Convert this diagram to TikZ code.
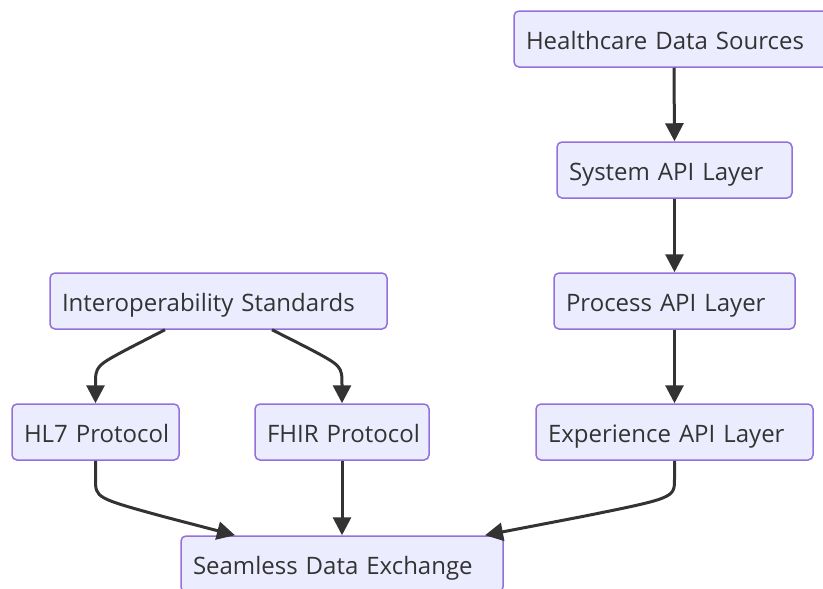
\documentclass[tikz,border=0pt]{standalone}
\usepackage{fontspec}
\setmainfont{Open Sans}
\usetikzlibrary{arrows.meta,calc}
\definecolor{boxfill}{HTML}{ECECFF}
\definecolor{boxline}{HTML}{9370DB}
\definecolor{edgecol}{HTML}{333333}
\definecolor{textcol}{HTML}{333333}
\tikzset{
  flowbox/.style={draw=boxline, fill=boxfill, line width=1.5pt, rounded corners=5pt,
    minimum height=56pt, inner xsep=12pt, inner ysep=0pt, align=left,
    text height=22pt, text depth=2pt,
    text=textcol, font=\fontsize{24}{28}\selectfont},
  link/.style={draw=edgecol, line width=3pt,
    -{Triangle[length=18pt,width=18pt]}}
}
\begin{document}
\begin{tikzpicture}[x=1pt,y=-1pt]
  \useasboundingbox (0,0) rectangle (823,589);
  \clip (0,0) rectangle (823,589);

  % API layer chain
  \node[flowbox, text width=296pt] (hds)  at (674,39)    {\mbox{Healthcare Data Sources}};
  \node[flowbox, text width=211pt] (sys)  at (674.5,170) {\mbox{System API Layer}};
  \node[flowbox, text width=217pt] (proc) at (674.5,301) {\mbox{Process API Layer}};
  \node[flowbox, text width=253pt] (exp)  at (674.5,432) {\mbox{Experience API Layer}};

  % standards branch
  \node[flowbox, text width=313pt] (interop) at (218.5,301) {\mbox{Interoperability Standards}};
  \node[flowbox, text width=143pt] (hl7)     at (95.5,432)  {\mbox{HL7 Protocol}};
  \node[flowbox, text width=150pt] (fhir)    at (342,432)   {\mbox{FHIR Protocol}};

  % common target
  \node[flowbox, text width=298pt] (seam) at (342,564) {\mbox{Seamless Data Exchange}};

  % straight links
  \draw[link] (hds.south)  -- (sys.north);
  \draw[link] (sys.south)  -- (proc.north);
  \draw[link] (proc.south) -- (exp.north);
  \draw[link] (fhir.south) -- (seam.north);

  % curved links
  \draw[link] ([xshift=-53.5pt]interop.south) -- (130.5,347.5)
    .. controls (95.5,366) .. (95.5,385) -- (hl7.north);
  \draw[link] ([xshift=53.5pt]interop.south) -- (307,347.5)
    .. controls (342,366) .. (342,385) -- (fhir.north);
  \draw[link] (hl7.south) -- (95.5,479)
    .. controls (95.5,498) .. (165,517) -- ([xshift=-107pt]seam.north);
  \draw[link] (exp.south) -- (674.5,479)
    .. controls (674.5,498) .. (580,517) -- ([xshift=143pt]seam.north);
\end{tikzpicture}
\end{document}
